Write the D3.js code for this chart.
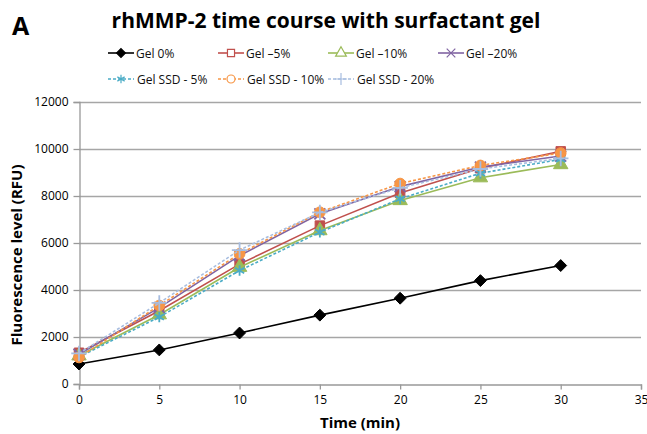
<!DOCTYPE html>
<html>
<head>
<meta charset="utf-8">
<script src="https://cdn.jsdelivr.net/npm/d3@7"></script>
<style>
  body { margin: 0; background: #fff; }
  svg { display: block; font-family: "Open Sans", "Liberation Sans", sans-serif; }
</style>
</head>
<body>
<div id="chart"></div>
<script>
const width = 647, height = 434;
const margin = { top: 102, right: 6, bottom: 50, left: 79 };

// data
const times = [0, 5, 10, 15, 20, 25, 30];
const seriesNames = ["Gel 0%", "Gel \u20135%", "Gel \u201310%", "Gel \u201320%", "Gel SSD - 5%", "Gel SSD - 10%", "Gel SSD - 20%"];
const gel0 = [850, 1450, 2170, 2930, 3650, 4400, 5040];
const gel5 = [1330, 3120, 5100, 6740, 8130, 9180, 9900];
const gel10 = [1200, 2950, 4970, 6530, 7810, 8780, 9340];
const gel20 = [1260, 3250, 5460, 7240, 8400, 9230, 9700];
const ssd5 = [1150, 2850, 4830, 6460, 7880, 8970, 9560];
const ssd10 = [1130, 3340, 5540, 7310, 8530, 9300, 9830];
const ssd20 = [1300, 3450, 5700, 7300, 8350, 9150, 9600];
const xTicks = [0, 5, 10, 15, 20, 25, 30, 35];
const yTicks = [0, 2000, 4000, 6000, 8000, 10000, 12000];

const colors = ["#000000", "#C0504D", "#9BBB59", "#8064A2", "#4BACC6", "#F79646", "#A7BDE0"];
const symbols = [d3.symbolDiamond2, d3.symbolSquare, d3.symbolTriangle, d3.symbolX, d3.symbolAsterisk, d3.symbolCircle, d3.symbolPlus];
const dashed = [false, false, false, false, true, true, true];

const series = [gel0, gel5, gel10, gel20, ssd5, ssd10, ssd20].map((vals, i) => ({
  name: seriesNames[i],
  color: colors[i],
  symbol: symbols[i],
  dashed: dashed[i],
  values: vals.map((v, j) => ({ t: times[j], v }))
}));

const svg = d3.select("#chart").append("svg")
  .attr("width", width)
  .attr("height", height);

const x = d3.scaleLinear().domain([0, 35]).range([margin.left, width - margin.right]);
const y = d3.scaleLinear().domain([0, 12000]).range([height - margin.bottom, margin.top]);

// gridlines
svg.append("g")
  .selectAll("line")
  .data(yTicks.slice(1))
  .join("line")
  .attr("x1", x(0)).attr("x2", x(35))
  .attr("y1", d => y(d) + 0.5).attr("y2", d => y(d) + 0.5)
  .attr("stroke", "#a6a6a6")
  .attr("stroke-width", 1.3);

// axes
const xAxis = svg.append("g")
  .attr("transform", `translate(0, ${y(0) + 0.5})`)
  .call(d3.axisBottom(x).tickValues(xTicks).tickFormat(d3.format("d")).tickSize(5).tickPadding(6));
const yAxis = svg.append("g")
  .attr("transform", `translate(${x(0) + 0.5}, 0)`)
  .call(d3.axisLeft(y).tickValues(yTicks).tickFormat(d3.format("d")).tickSize(6).tickPadding(5));

[xAxis, yAxis].forEach(a => {
  a.select(".domain").attr("stroke", "#999").attr("stroke-width", 1.3);
  a.selectAll(".tick line").attr("stroke", "#999").attr("stroke-width", 1.3);
  a.selectAll("text").attr("font-size", 12).attr("fill", "#000")
    .attr("font-family", "'Open Sans', sans-serif");
});

// lines
const line = d3.line().x(d => x(d.t)).y(d => y(d.v));

const g = svg.append("g").attr("class", "series");
series.forEach(s => {
  g.append("path")
    .datum(s.values)
    .attr("fill", "none")
    .attr("stroke", s.color)
    .attr("stroke-width", 1.6)
    .attr("stroke-dasharray", s.dashed ? "3,2" : null)
    .attr("d", line);

  const open = s.symbol === d3.symbolX || s.symbol === d3.symbolAsterisk || s.symbol === d3.symbolPlus;
  g.selectAll(null)
    .data(s.values)
    .join("path")
    .attr("transform", d => `translate(${x(d.t)}, ${y(d.v)})`)
    .attr("d", d3.symbol().type(s.symbol).size(open ? 80 : 90))
    .attr("fill", open ? "none" : s.color)
    .attr("stroke", s.color)
    .attr("stroke-width", open ? 1.8 : 1);
});

// title
svg.append("text")
  .attr("x", 12).attr("y", 35)
  .attr("font-size", 25).attr("font-weight", "bold")
  .attr("font-family", "'Open Sans', sans-serif")
  .text("A");
svg.append("text")
  .attr("x", 326).attr("y", 28)
  .attr("text-anchor", "middle")
  .attr("font-size", 21).attr("font-weight", "bold")
  .attr("font-family", "'Open Sans', sans-serif")
  .text("rhMMP-2 time course  with surfactant gel");

// legend
const legendX = [108, 218, 328, 438];
const legendY = [53, 79];
const legend = svg.append("g").attr("class", "legend");
series.forEach((s, i) => {
  const lx = legendX[i < 4 ? i : i - 4];
  const ly = legendY[i < 4 ? 0 : 1];
  const item = legend.append("g").attr("transform", `translate(${lx}, ${ly})`);
  item.append("line")
    .attr("x1", 0).attr("x2", 26)
    .attr("stroke", s.color)
    .attr("stroke-width", 1.6)
    .attr("stroke-dasharray", s.dashed ? "3,2" : null);
  const filled = s.symbol === d3.symbolDiamond2;
  item.append("path")
    .attr("transform", "translate(13, 0)")
    .attr("d", d3.symbol().type(s.symbol).size(50))
    .attr("fill", filled ? s.color : "#fff")
    .attr("stroke", s.color)
    .attr("stroke-width", 1.2);
  item.append("text")
    .attr("x", i >= 4 ? 29 : 28).attr("y", 4.5)
    .attr("font-size", 12)
    .attr("fill", "#111")
    .text(s.name);
});

// axis titles
svg.append("text")
  .attr("x", x(17.5)).attr("y", 428)
  .attr("text-anchor", "middle")
  .attr("font-size", 15).attr("font-weight", "bold")
  .text("Time (min)");
svg.append("text")
  .attr("transform", `translate(22, ${y(6000) + 12}) rotate(-90)`)
  .attr("text-anchor", "middle")
  .attr("font-size", 15).attr("font-weight", "bold")
  .text("Fluorescence  level (RFU)");
</script>
</body>
</html>
